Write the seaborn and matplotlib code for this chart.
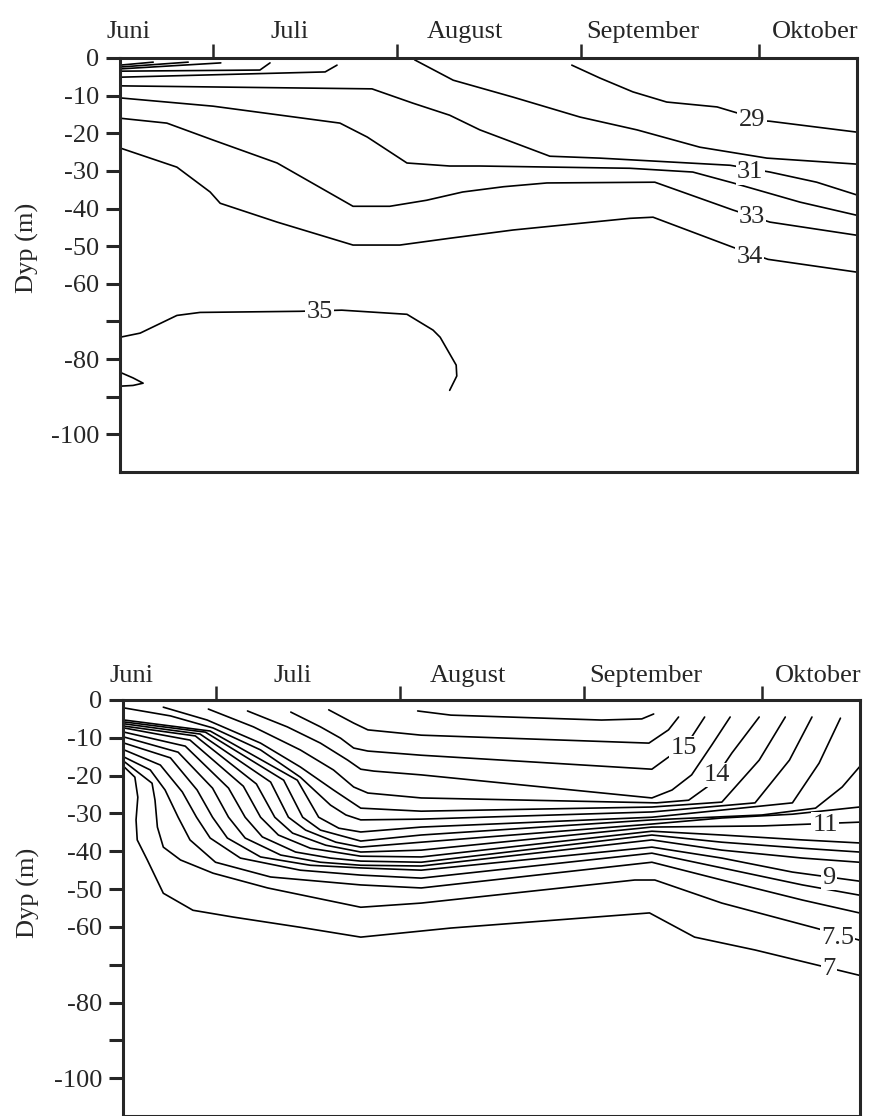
import pandas as pd
import numpy as np
import seaborn as sns
import matplotlib.pyplot as plt

sns.set_style("ticks")
plt.rcParams['font.family'] = ['Liberation Serif', 'DejaVu Serif']

# x = days after 1 June, y = depth (m)
month_names = ['Juni', 'Juli', 'August', 'September', 'Oktober']
month_ticks = [30, 61, 92, 122]
month_label_day = [12.1, 39.6, 66.1, 92.9, 124.2]
depth_ticks = [0, -10, -20, -30, -40, -50, -60, -70, -80, -90, -100]
depth_ticklabels = ['0', '-10', '-20', '-30', '-40', '-50', '-60', '', '-80', '', '-100']

# salinity isolines (top panel)
sal_days = [
    [14.3, 19.9],
    [14.3, 25.8],
    [14.3, 31.3],
    [14.3, 37.9, 39.6],
    [14.3, 48.9, 50.9],
    [64.0, 70.5, 80.6, 91.9, 101.5, 112.1, 123.4, 138.6],
    [90.5, 95.2, 100.8, 106.5, 115.0, 118.4, 120.9, 123.9, 138.6],
    [14.3, 56.8, 63.7, 69.9, 75.0, 86.8, 95.2, 117.2, 123.9, 131.8, 138.6],
    [14.3, 30.0, 51.4, 56.0, 62.7, 69.9, 75.0, 100.3, 110.9, 117.7, 129.0, 138.6],
    [14.3, 22.2, 30.0, 40.8, 53.6, 59.8, 66.0, 72.1, 79.0, 86.3, 104.5, 117.7, 123.9, 138.6],
    [14.3, 23.9, 29.5, 31.2, 40.8, 53.6, 61.5, 69.9, 80.6, 100.3, 104.2, 117.7, 123.6, 138.6],
    [14.3, 17.7, 23.9, 27.8, 44.7, 51.7, 62.7, 67.1, 68.3, 71.0, 71.1, 69.9],
    [14.3, 16.5, 18.2, 16.5, 14.3],
]
sal_depth = [
    [-1.9, -1.1],
    [-2.4, -1.1],
    [-2.9, -1.3],
    [-3.5, -3.2, -1.3],
    [-5.1, -3.7, -1.9],
    [-0.5, -5.9, -10.4, -15.7, -19.1, -23.7, -26.6, -28.2],
    [-1.9, -5.3, -9.0, -11.7, -13.0, -14.6, -16.5, -16.8, -19.7],
    [-7.4, -8.2, -12.0, -15.2, -19.1, -26.1, -26.6, -28.5, -30.3, -33.0, -36.4],
    [-10.6, -12.8, -17.3, -21.0, -27.9, -28.7, -28.7, -29.3, -30.3, -33.2, -38.3, -41.8],
    [-16.0, -17.3, -21.8, -27.9, -39.4, -39.4, -37.8, -35.6, -34.2, -33.2, -33.0, -40.4, -43.6, -47.1],
    [-23.9, -29.0, -35.6, -38.6, -43.6, -49.7, -49.7, -47.9, -45.7, -42.6, -42.3, -50.3, -53.5, -56.9],
    [-74.2, -73.1, -68.4, -67.6, -67.3, -67.0, -68.1, -72.3, -74.2, -81.6, -84.5, -88.3],
    [-83.5, -85.0, -86.4, -87.0, -87.2],
]
sal_label_text = ['29', '31', '33', '34', '35']
sal_label_day = [120.9, 120.6, 120.9, 120.5, 48.0]
sal_label_depth = [-16.5, -30.4, -42.3, -52.9, -67.6]

# temperature isolines (bottom panel), 16 down to 7 degrees in 0.5 steps
temp_days = [
    [64.0, 69.6, 95.0, 101.8, 103.8],
    [49.0, 53.2, 55.6, 64.6, 103.0, 106.3, 108.0],
    [42.6, 47.6, 51.0, 53.2, 55.6, 64.6, 103.5, 106.3, 108.9, 110.2, 112.4],
    [35.3, 42.0, 47.6, 52.2, 54.4, 56.6, 64.6, 103.5, 106.9, 110.2, 113.6, 116.7],
    [28.7, 36.3, 44.2, 49.8, 53.2, 55.6, 64.6, 104.3, 109.7, 112.8, 114.5, 117.0, 121.6],
    [21.1, 28.5, 37.5, 44.2, 49.8, 54.4, 64.6, 103.5, 115.3, 121.6, 126.0],
    [14.5, 22.3, 29.5, 37.5, 44.2, 49.3, 51.9, 54.4, 64.6, 103.5, 120.9, 126.7, 130.5],
    [14.5, 29.0, 43.7, 47.3, 50.7, 54.4, 64.6, 103.5, 127.2, 131.7, 135.3],
    [14.5, 28.2, 41.4, 44.6, 47.6, 54.4, 64.6, 103.5, 122.1, 131.1, 135.6, 138.5],
    [14.5, 27.3, 39.2, 42.2, 45.1, 50.2, 54.4, 64.6, 103.5, 115.3, 127.2, 138.5],
    [14.5, 26.5, 36.8, 39.9, 42.9, 48.5, 54.4, 64.6, 103.5, 122.1, 138.5],
    [14.5, 25.6, 34.6, 37.5, 40.5, 45.9, 54.4, 64.6, 103.5, 115.3, 128.9, 138.5],
    [14.5, 24.8, 32.1, 34.9, 37.8, 43.4, 49.3, 54.4, 64.6, 103.5, 115.3, 128.9, 138.5],
    [14.5, 23.6, 29.4, 32.1, 34.9, 40.9, 47.6, 54.4, 64.6, 103.5, 115.3, 128.9, 138.5],
    [14.5, 22.3, 26.8, 29.4, 31.9, 37.5, 45.9, 54.4, 64.6, 103.5, 115.3, 127.2, 138.5],
    [14.5, 20.6, 24.3, 26.7, 29.0, 34.1, 44.2, 54.4, 64.6, 103.5, 115.3, 128.9, 138.5],
    [14.5, 18.9, 21.4, 23.6, 25.6, 29.9, 39.2, 54.4, 64.6, 103.5, 115.3, 128.9, 138.5],
    [14.6, 19.2, 19.7, 20.1, 21.1, 24.0, 29.5, 38.7, 54.4, 64.6, 100.6, 104.0, 115.3, 131.1, 138.5],
    [14.5, 16.3, 16.8, 16.5, 16.7, 18.4, 21.1, 26.1, 32.9, 44.2, 54.4, 69.6, 103.1, 110.7, 120.9, 138.5],
]
temp_depth = [
    [-2.9, -4.0, -5.3, -5.0, -3.7],
    [-2.6, -6.1, -7.9, -9.3, -11.4, -7.9, -4.5],
    [-3.2, -7.1, -10.1, -12.7, -13.5, -14.6, -18.3, -15.1, -12.7, -9.8, -4.5],
    [-2.9, -7.1, -11.4, -15.9, -18.3, -18.8, -19.8, -25.9, -23.8, -19.8, -11.9, -4.5],
    [-2.4, -7.1, -13.2, -18.5, -23.0, -24.6, -25.9, -27.2, -26.5, -23.0, -19.8, -14.0, -4.5],
    [-1.9, -5.3, -11.4, -17.7, -23.8, -28.6, -29.4, -28.3, -27.0, -15.9, -4.5],
    [-2.1, -4.2, -7.4, -13.2, -20.4, -27.8, -30.4, -31.7, -31.5, -29.6, -27.2, -15.9, -4.5],
    [-5.3, -8.2, -21.2, -31.0, -33.9, -34.9, -33.6, -31.0, -27.2, -16.7, -4.8],
    [-5.8, -8.5, -21.2, -31.0, -34.4, -37.3, -35.7, -31.7, -30.4, -28.6, -23.0, -17.7],
    [-6.3, -9.0, -21.7, -31.0, -34.4, -37.6, -38.9, -37.6, -32.8, -31.2, -30.2, -28.3],
    [-6.9, -9.5, -22.2, -31.0, -35.2, -38.4, -40.2, -39.7, -33.6, -33.3, -32.3],
    [-7.4, -10.6, -22.8, -31.0, -35.7, -39.2, -41.3, -41.5, -34.7, -35.7, -37.0, -37.8],
    [-8.5, -12.2, -23.3, -31.0, -36.2, -40.2, -41.8, -42.6, -42.9, -35.7, -37.6, -39.2, -40.2],
    [-9.8, -13.8, -23.3, -31.0, -36.5, -41.0, -42.9, -43.7, -43.9, -37.0, -39.7, -41.8, -42.9],
    [-11.4, -15.3, -23.8, -31.0, -36.5, -41.5, -43.7, -44.4, -45.0, -38.9, -41.8, -45.5, -47.9],
    [-13.2, -17.2, -24.3, -31.0, -36.5, -41.8, -45.0, -46.3, -47.1, -40.5, -44.4, -48.9, -51.6],
    [-15.1, -18.5, -23.8, -31.0, -37.0, -42.9, -46.8, -48.9, -49.7, -42.9, -47.6, -52.9, -56.3],
    [-16.4, -22.0, -26.5, -33.6, -38.9, -42.3, -45.8, -49.7, -54.8, -53.7, -47.6, -47.6, -53.7, -60.3, -63.5],
    [-17.7, -20.4, -25.7, -31.7, -37.0, -42.3, -51.1, -55.6, -57.4, -60.1, -62.7, -60.3, -56.3, -62.7, -66.1, -72.8],
]
temp_label_text = ['15', '14', '11', '9', '7.5', '7']
temp_label_day = [108.9, 114.5, 132.7, 133.4, 134.8, 133.4]
temp_label_depth = [-12.7, -19.8, -33.0, -47.0, -63.0, -71.0]


def to_frame(days, depths):
    rows = []
    for i, (xs, ys) in enumerate(zip(days, depths)):
        for x, y in zip(xs, ys):
            rows.append((i, x, y))
    return pd.DataFrame(rows, columns=['line', 'day', 'depth'])


def draw_panel(ax, days, depths, lab_text, lab_day, lab_depth, label_offset):
    df = to_frame(days, depths)
    sns.lineplot(data=df, x='day', y='depth', units='line', estimator=None,
                 sort=False, color='black', linewidth=1.2, ax=ax, legend=False)
    for t, x, y in zip(lab_text, lab_day, lab_depth):
        ax.text(x, y, t, ha='center', va='center', fontsize=19, zorder=5,
                bbox=dict(facecolor='white', edgecolor='none', pad=1.0))
    ax.set_xlim(14.3, 138.6)
    ax.set_ylim(-110, 0)
    ax.set_xlabel('')
    ax.set_ylabel('')
    ax.set_yticks(depth_ticks)
    ax.set_yticklabels(depth_ticklabels)
    ax.set_xticks(month_ticks)
    ax.tick_params(axis='y', direction='out', length=10, width=2.2,
                   labelsize=19, pad=5)
    ax.tick_params(axis='x', bottom=False, top=True, labelbottom=False,
                   labeltop=False, direction='out', length=10, width=1.8)
    for s in ax.spines.values():
        s.set_visible(True)
        s.set_linewidth(2.2)
    for name, x in zip(month_names, month_label_day):
        ax.annotate(name, xy=(x, 1), xycoords=('data', 'axes fraction'),
                    xytext=(0, label_offset), textcoords='offset points',
                    ha='left', va='baseline', fontsize=19)


fig = plt.figure(figsize=(8.72, 11.16), dpi=100)
ax1 = fig.add_axes([120 / 872, 1 - 472 / 1116, 737 / 872, 414 / 1116])
ax2 = fig.add_axes([123 / 872, 0, 737 / 872, 416 / 1116])

draw_panel(ax1, sal_days, sal_depth, sal_label_text, sal_label_day, sal_label_depth, 14.5)
draw_panel(ax2, temp_days, temp_depth, temp_label_text, temp_label_day, temp_label_depth, 13)

fig.text(27 / 872, 1 - 248 / 1116, 'Dyp (m)', rotation=90, ha='center', va='center', fontsize=19)
fig.text(28 / 872, 1 - 893 / 1116, 'Dyp (m)', rotation=90, ha='center', va='center', fontsize=19)

fig.savefig('out.png', dpi=100)
